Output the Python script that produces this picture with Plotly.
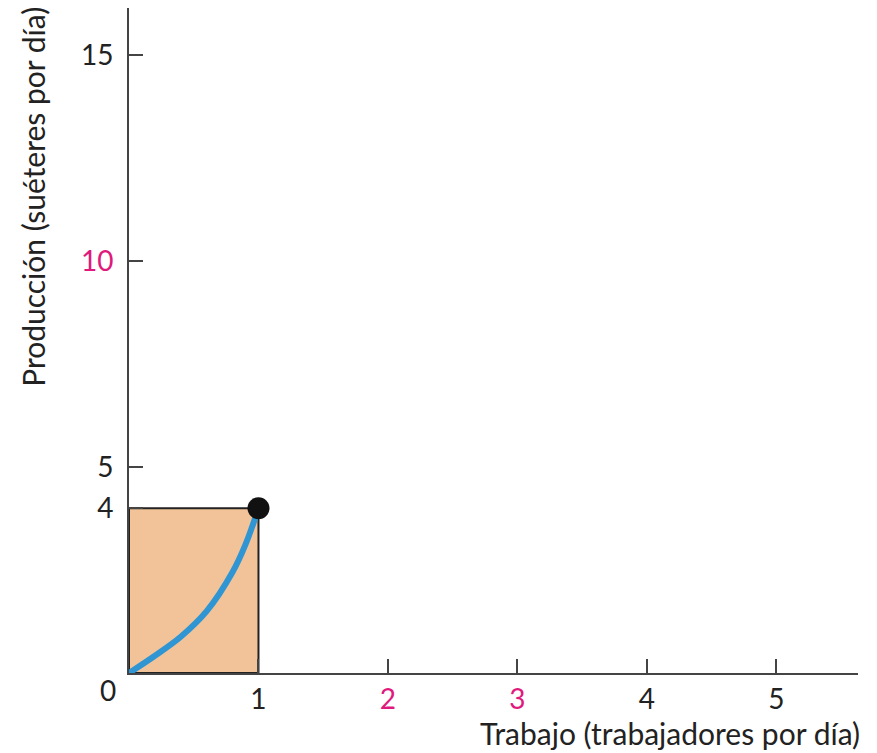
import plotly.graph_objects as go

# Data
curve_x = [0, 0.2, 0.4, 0.6, 0.8, 0.9, 1.0]
curve_y = [0, 0.42, 0.88, 1.5, 2.45, 3.12, 4.0]
point_x = [1]
point_y = [4]
rect_x = [0, 1, 1, 0, 0]
rect_y = [0, 0, 4, 4, 0]

x_ticks = [1, 2, 3, 4, 5]
x_ticktext = ["1", "2", "3", "4", "5"]
x_tickcolors = ["#222", "#e0197d", "#e0197d", "#222", "#222"]
y_ticks = [4, 5, 10, 15]
y_ticktext = ["4", "5", "10", "15"]
y_tickcolors = ["#222", "#222", "#e0197d", "#222"]

FONT = "Lato"
fig = go.Figure()
fig.add_trace(go.Scatter(x=rect_x, y=rect_y, mode="lines", fill="toself",
                         fillcolor="#f2c398", line=dict(color="#222", width=2),
                         hoverinfo="skip"))
fig.add_trace(go.Scatter(x=curve_x, y=curve_y, mode="lines",
                         line=dict(color="#2f95d3", width=6, shape="spline", smoothing=1.0)))
fig.add_trace(go.Scatter(x=point_x, y=point_y, mode="markers",
                         marker=dict(color="#111", size=22)))

def colored(texts, colors):
    return [f'<span style="color:{c}">{t}</span>' for t, c in zip(texts, colors)]

# the page body has an 8px default margin, so the figure is sized/offset to compensate
fig.update_layout(
    width=869, height=745,
    margin=dict(l=121, r=19, t=0, b=80),
    plot_bgcolor="white", paper_bgcolor="white",
    showlegend=False,
    font=dict(family=FONT, size=28, color="#222"),
    xaxis=dict(range=[0, 5.63], showgrid=False, zeroline=False, automargin=False,
               showline=True, linecolor="#444", linewidth=2,
               ticks="inside", ticklen=14, tickwidth=2, tickcolor="#444",
               tickvals=x_ticks, ticktext=colored(x_ticktext, x_tickcolors),
               tickfont=dict(size=28), ticklabelstandoff=0),
    yaxis=dict(range=[0, 16.14], showgrid=False, zeroline=False, automargin=False,
               showline=True, linecolor="#444", linewidth=2,
               ticks="inside", ticklen=14, tickwidth=2, tickcolor="#444",
               tickvals=y_ticks, ticktext=colored(y_ticktext, y_tickcolors),
               tickfont=dict(size=28), ticklabelstandoff=8),
    annotations=[
        dict(text="0", xref="paper", yref="paper", x=-0.0288, y=-0.0256,
             showarrow=False, xanchor="center", yanchor="middle", font=dict(size=28)),
        dict(text="Trabajo (trabajadores por día)", xref="paper", yref="paper",
             x=1.0055, y=-0.09, showarrow=False, xanchor="right", yanchor="middle",
             font=dict(size=30)),
        dict(text="Producción (suéteres por día)", xref="paper", yref="paper",
             x=-0.1317, y=0.716, showarrow=False, xanchor="center", yanchor="middle",
             textangle=-90, font=dict(size=30)),
    ],
)
fig.write_html("out.html")
